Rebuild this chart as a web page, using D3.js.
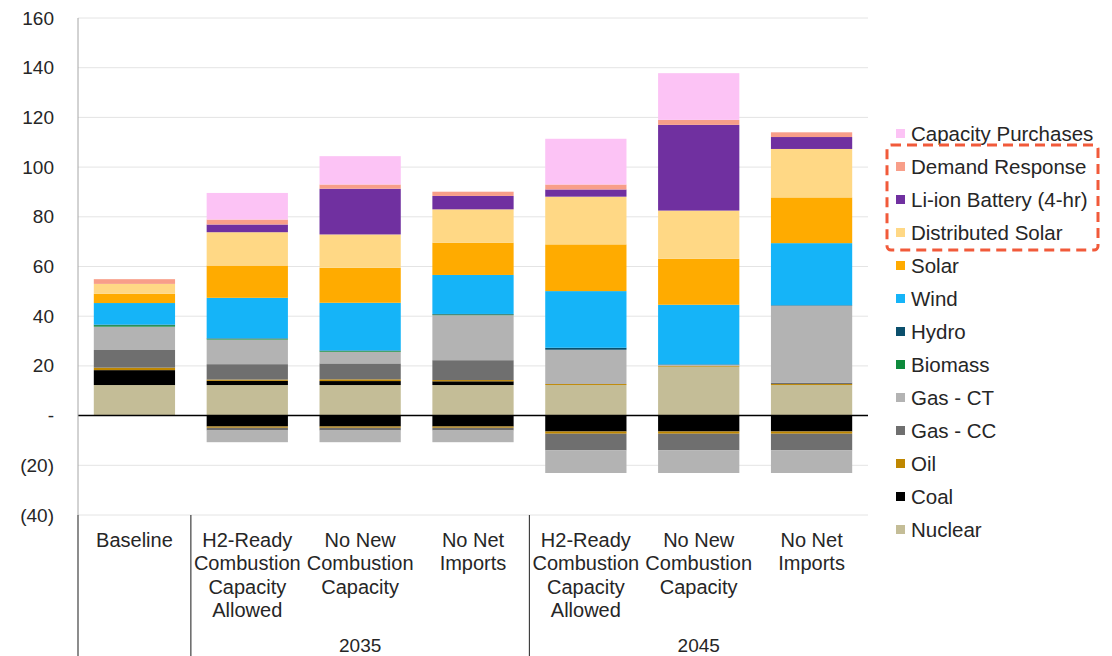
<!DOCTYPE html>
<html lang="en">
<head>
  <meta charset="UTF-8">
  <title>Capacity by Scenario</title>
  <script src="https://d3js.org/d3.v7.min.js"></script>
  <style>
    body {
      margin: 0;
      padding: 0;
      background: #fff;
      font-family: "Liberation Sans", Arial, sans-serif;
    }
    svg { display: block; }
    .tick text { fill: #262626; }
  </style>
</head>
<body>
  <svg id="chart" width="1112" height="656"></svg>

  <script>
    // scenario labels (one entry per bar, split into lines)
    const categories = [
      ["Baseline"],
      ["H2-Ready", "Combustion", "Capacity", "Allowed"],
      ["No New", "Combustion", "Capacity"],
      ["No Net", "Imports"],
      ["H2-Ready", "Combustion", "Capacity", "Allowed"],
      ["No New", "Combustion", "Capacity"],
      ["No Net", "Imports"]
    ];
    const groups = [
      { label: "2035", from: 1, to: 3 },
      { label: "2045", from: 4, to: 6 }
    ];

    const yTicks = [-40, -20, 0, 20, 40, 60, 80, 100, 120, 140, 160];

    // series, bottom of the stack first
    const seriesNames = ["Nuclear", "Coal", "Oil", "Gas - CC", "Gas - CT", "Biomass", "Hydro",
      "Wind", "Solar", "Distributed Solar", "Li-ion Battery (4-hr)", "Demand Response", "Capacity Purchases"];
    const seriesColors = ["#c4bd97", "#000000", "#bf8700", "#6f6f6f", "#b3b3b3", "#0e8a3c", "#0b4f6c",
      "#15b4f8", "#ffab00", "#ffd885", "#7030a0", "#f89e89", "#fcc3f5"];

    // additions
    const nuclear      = [12.3, 12.3, 12.3, 12.3, 12.3, 19.7, 12.3];
    const coal         = [6.0, 1.7, 1.6, 1.5, 0, 0, 0];
    const oil          = [1.0, 0.5, 0.7, 0.5, 0.4, 0.3, 0.4];
    const gasCC        = [7.1, 6.2, 6.4, 8.0, 0, 0, 0.6];
    const gasCT        = [9.4, 9.9, 4.7, 18.1, 13.8, 0.4, 30.9];
    const biomass      = [0.6, 0.3, 0.3, 0.3, 0, 0, 0];
    const hydro        = [0.2, 0.2, 0.2, 0.2, 0.8, 0.2, 0.2];
    const wind         = [8.7, 16.3, 19.2, 15.7, 22.8, 24.0, 25.0];
    const solar        = [3.7, 13.0, 14.1, 13.0, 18.8, 18.5, 18.4];
    const distSolar    = [4.0, 13.4, 13.4, 13.4, 19.2, 19.4, 19.5];
    const battery      = [0, 3.1, 18.4, 5.4, 2.9, 34.5, 4.8];
    const demandResp   = [1.9, 2.0, 1.7, 1.7, 2.0, 2.0, 1.9];
    const capPurchases = [0, 10.7, 11.4, 0, 18.4, 18.8, 0];

    // retirements
    const coalRet  = [0, -4.4, -4.4, -4.4, -6.4, -6.4, -6.4];
    const oilRet   = [0, -0.5, -0.5, -0.5, -0.9, -0.9, -0.9];
    const gasCCRet = [0, -1.1, -1.1, -1.1, -6.7, -6.7, -6.7];
    const gasCTRet = [0, -4.7, -4.7, -4.7, -9.1, -9.1, -9.1];

    const addSeries = [nuclear, coal, oil, gasCC, gasCT, biomass, hydro, wind, solar, distSolar, battery, demandResp, capPurchases];
    const retSeries = { "Coal": coalRet, "Oil": oilRet, "Gas - CC": gasCCRet, "Gas - CT": gasCTRet };

    const svg = d3.select("#chart");
    const plotTop = 18, plotBottom = 515, left = 78, right = 868;

    const x = d3.scaleBand()
      .domain(d3.range(categories.length))
      .range([left, right])
      .paddingInner(0.28)
      .paddingOuter(0.14);

    const y = d3.scaleLinear()
      .domain([-40, 160])
      .range([plotBottom, plotTop]);

    const color = d3.scaleOrdinal().domain(seriesNames).range(seriesColors);

    // gridlines
    svg.append("g")
      .selectAll("line")
      .data(yTicks.filter(d => d !== 0))
      .join("line")
      .attr("x1", left).attr("x2", right)
      .attr("y1", d => y(d)).attr("y2", d => y(d))
      .attr("stroke", "#e4e4e4")
      .attr("stroke-width", 1);

    // y axis labels
    const yAxis = d3.axisLeft(y)
      .tickValues(yTicks)
      .tickSize(0)
      .tickPadding(24)
      .tickFormat(d => d === 0 ? "-" : d < 0 ? `(${-d})` : d);

    svg.append("g")
      .attr("transform", `translate(${left},0)`)
      .call(yAxis)
      .call(g => g.select(".domain").remove())
      .selectAll("text")
      .style("font-size", "19px")
      .style("font-family", "'Liberation Sans', Arial, sans-serif");

    // build tables for stacking
    const posTable = d3.range(categories.length).map(i => {
      const row = { i };
      seriesNames.forEach((s, k) => { row[s] = addSeries[k][i]; });
      return row;
    });
    const negTable = d3.range(categories.length).map(i => {
      const row = { i };
      seriesNames.forEach(s => { row[s] = retSeries[s] ? retSeries[s][i] : 0; });
      return row;
    });

    const stackPos = d3.stack().keys(seriesNames)(posTable);
    const stackNeg = d3.stack().keys(seriesNames).offset(d3.stackOffsetDiverging)(negTable);

    const bars = svg.append("g");
    [stackPos, stackNeg].forEach(stacked => {
      bars.append("g")
        .selectAll("g")
        .data(stacked)
        .join("g")
        .attr("fill", d => color(d.key))
        .selectAll("rect")
        .data(d => d.filter(p => p[1] !== p[0]))
        .join("rect")
        .attr("x", d => x(d.data.i))
        .attr("width", x.bandwidth())
        .attr("y", d => y(Math.max(d[0], d[1])))
        .attr("height", d => Math.abs(y(d[0]) - y(d[1])));
    });

    // zero line
    svg.append("line")
      .attr("x1", left).attr("x2", right)
      .attr("y1", y(0)).attr("y2", y(0))
      .attr("stroke", "#000")
      .attr("stroke-width", 1.5);

    // left axis line and category separators
    svg.append("line")
      .attr("x1", left).attr("x2", left)
      .attr("y1", plotTop).attr("y2", plotBottom)
      .attr("stroke", "#a6a6a6");

    const sepX = [left, (x(0) + x.bandwidth() + x(1)) / 2, (x(3) + x.bandwidth() + x(4)) / 2];
    svg.append("g")
      .selectAll("line")
      .data(sepX)
      .join("line")
      .attr("x1", d => d).attr("x2", d => d)
      .attr("y1", plotBottom).attr("y2", 656)
      .attr("stroke", "#404040")
      .attr("stroke-width", 1.2);

    // category labels
    const catText = svg.append("g")
      .selectAll("text")
      .data(categories)
      .join("text")
      .attr("x", (d, i) => x(i) + x.bandwidth() / 2)
      .attr("y", 547)
      .attr("text-anchor", "middle")
      .style("font-size", "20px")
      .attr("fill", "#262626");

    catText.selectAll("tspan")
      .data((d, i) => d.map(line => ({ line, i })))
      .join("tspan")
      .attr("x", d => x(d.i) + x.bandwidth() / 2)
      .attr("dy", (d, k) => k === 0 ? 0 : 23.3)
      .text(d => d.line);

    svg.append("g")
      .selectAll("text")
      .data(groups)
      .join("text")
      .attr("x", g => (x(g.from) + x(g.to) + x.bandwidth()) / 2)
      .attr("y", 652)
      .attr("text-anchor", "middle")
      .style("font-size", "19px")
      .attr("fill", "#262626")
      .text(g => g.label);

    // legend, top item is the top of the stack
    const legendNames = seriesNames.slice().reverse();
    const legend = svg.append("g")
      .selectAll("g")
      .data(legendNames)
      .join("g")
      .attr("transform", (d, i) => `translate(896,${134 + i * 33})`);

    legend.append("rect")
      .attr("x", 0).attr("y", -5)
      .attr("width", 9).attr("height", 9)
      .attr("fill", d => color(d));

    legend.append("text")
      .attr("x", 15)
      .attr("y", 7)
      .style("font-size", "20.5px")
      .attr("fill", "#262626")
      .text(d => d);

    // dashed highlight box around the storage / distributed items
    svg.append("rect")
      .attr("x", 887).attr("y", 145)
      .attr("width", 211).attr("height", 105)
      .attr("rx", 4)
      .attr("fill", "none")
      .attr("stroke", "#f15a3a")
      .attr("stroke-width", 3)
      .attr("stroke-dasharray", "10,6");
  </script>
</body>
</html>
